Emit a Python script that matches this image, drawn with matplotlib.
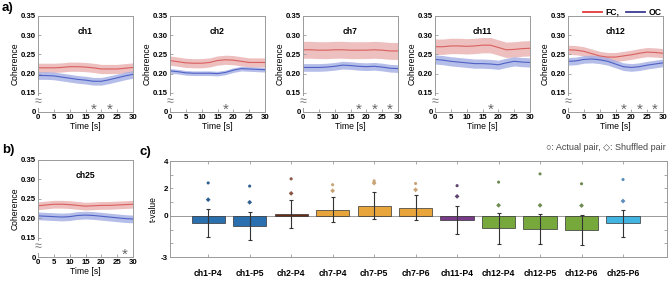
import numpy as np
import matplotlib
matplotlib.use("Agg")
import matplotlib.pyplot as plt
import matplotlib.transforms as mtransforms

plt.rcParams['font.family'] = ['Liberation Sans', 'DejaVu Sans']
plt.rcParams['font.weight'] = 'bold'

# ---- data: coherence time courses (a, b) ----
t = [0, 2.5, 5, 7.5, 10, 12.5, 15, 17.5, 20, 22.5, 25, 27.5, 30]
channels = ["ch1", "ch2", "ch7", "ch11", "ch12", "ch25"]
fc_mean = {
    "ch1": [0.215, 0.215, 0.215, 0.216, 0.218, 0.218, 0.217, 0.215, 0.212, 0.212, 0.212, 0.214, 0.216],
    "ch2": [0.234, 0.231, 0.228, 0.227, 0.227, 0.229, 0.234, 0.236, 0.235, 0.232, 0.229, 0.229, 0.229],
    "ch7": [0.262, 0.262, 0.261, 0.261, 0.262, 0.262, 0.261, 0.261, 0.261, 0.262, 0.261, 0.259, 0.259],
    "ch11": [0.270, 0.270, 0.272, 0.272, 0.271, 0.272, 0.274, 0.274, 0.268, 0.262, 0.263, 0.265, 0.266],
    "ch12": [0.262, 0.261, 0.258, 0.252, 0.246, 0.243, 0.243, 0.246, 0.249, 0.253, 0.256, 0.255, 0.253],
    "ch25": [0.232, 0.234, 0.236, 0.236, 0.235, 0.233, 0.231, 0.232, 0.233, 0.233, 0.234, 0.235, 0.236],
}
oc_mean = {
    "ch1": [0.195, 0.195, 0.194, 0.191, 0.188, 0.185, 0.183, 0.180, 0.180, 0.184, 0.189, 0.194, 0.198],
    "ch2": [0.207, 0.205, 0.202, 0.201, 0.201, 0.201, 0.200, 0.203, 0.209, 0.213, 0.212, 0.211, 0.210],
    "ch7": [0.216, 0.216, 0.216, 0.217, 0.219, 0.222, 0.221, 0.219, 0.218, 0.219, 0.217, 0.214, 0.213],
    "ch11": [0.237, 0.235, 0.232, 0.230, 0.228, 0.226, 0.226, 0.225, 0.223, 0.228, 0.232, 0.230, 0.229],
    "ch12": [0.232, 0.233, 0.237, 0.238, 0.236, 0.232, 0.225, 0.218, 0.216, 0.218, 0.222, 0.225, 0.228],
    "ch25": [0.206, 0.205, 0.204, 0.203, 0.204, 0.207, 0.208, 0.207, 0.205, 0.203, 0.201, 0.199, 0.198],
}
fc_err = {"ch1": 0.012, "ch2": 0.012, "ch7": 0.022, "ch11": 0.02, "ch12": 0.012, "ch25": 0.01}
oc_err = {"ch1": 0.01, "ch2": 0.006, "ch7": 0.01, "ch11": 0.012, "ch12": 0.01, "ch25": 0.01}
stars = {"ch1": [17.5, 22.5], "ch2": [17.5], "ch7": [17.5, 22.5, 27.5],
         "ch11": [17.5], "ch12": [17.5, 22.5, 27.5], "ch25": [27.5]}

# ---- data: t-values (c) ----
pairs = ["ch1-P4", "ch1-P5", "ch2-P4", "ch7-P4", "ch7-P5", "ch7-P6",
         "ch11-P4", "ch12-P4", "ch12-P5", "ch12-P6", "ch25-P6"]
t_mean = [-0.5, -0.72, 0.1, 0.46, 0.75, 0.6, -0.29, -0.92, -0.94, -1.04, -0.55]
t_sd = [1.02, 1.03, 1.02, 0.93, 0.96, 0.92, 1.03, 1.12, 1.1, 1.1, 1.0]
actual_pair = [2.4, 2.17, 2.7, 2.27, 2.55, 2.36, 2.2, 2.46, 3.06, 2.34, 2.65]
shuffled_pair = [1.18, 0.99, 1.64, 1.83, 2.39, 1.9, 1.42, 0.77, 0.77, 0.75, 1.08]
bar_colors = ["#2a6fae", "#2a6fae", "#6b2a12", "#e8a53c", "#e8a53c", "#e8a53c",
              "#7a3a8a", "#77a83c", "#77a83c", "#77a83c", "#42b4e2"]
dot_colors = ["#2f5f8f", "#2f5f8f", "#8a5545", "#c9a274", "#c9a274", "#c9a274",
              "#5e4270", "#6f8a52", "#6f8a52", "#6f8a52", "#5b8cbc"]

W, H = 669, 282
fig = plt.figure(figsize=(W / 100, H / 100), dpi=100)

def px_axes(left, top, right, bottom):
    return fig.add_axes([left / W, 1 - bottom / H, (right - left) / W, (bottom - top) / H])

red_line, red_fill = "#d9605e", "#eab0b0"
blue_line, blue_fill = "#4f63c6", "#a3ade4"
spine_c = "#9a9a9a"

def coh_panel(ax, ch):
    fc = np.array(fc_mean[ch]); oc = np.array(oc_mean[ch])
    ax.fill_between(t, fc - fc_err[ch], fc + fc_err[ch], color=red_fill, alpha=0.8, lw=0)
    ax.fill_between(t, oc - oc_err[ch], oc + oc_err[ch], color=blue_fill, alpha=0.8, lw=0)
    ax.plot(t, fc, color=red_line, lw=0.8)
    ax.plot(t, oc, color=blue_line, lw=0.8)
    ax.set_xlim(0, 30)
    ax.set_ylim(0.10, 0.35)
    ax.set_xticks(range(0, 31, 5))
    ax.set_yticks([0.10, 0.15, 0.20, 0.25, 0.30, 0.35])
    ax.set_yticklabels(["0", "0.15", "0.20", "0.25", "0.30", "0.35"])
    ax.tick_params(direction="in", length=2.5, width=0.6, labelsize=5.6, pad=1.5, color=spine_c)
    for s in ax.spines.values():
        s.set_color(spine_c); s.set_linewidth(0.7)
    ax.set_xlabel("Time [s]", fontsize=6.2, labelpad=1)
    ax.set_ylabel("Coherence", fontsize=6.2, labelpad=1)
    ax.text(15, 0.31, ch, ha="center", va="center", fontsize=6.2)
    for x in stars[ch]:
        ax.text(x, 0.106, "*", ha="center", va="center", fontsize=11, color="#666666",
                fontweight="normal")
    tr = mtransforms.blended_transform_factory(ax.transAxes, ax.transData)
    ax.text(0, 0.126, "≈", transform=tr, ha="center", va="center", fontsize=9,
            color="#777777", fontweight="normal", clip_on=False,
            bbox=dict(facecolor="white", edgecolor="none", pad=0.1))

lefts = [38, 170, 303, 435, 568]
for left, ch in zip(lefts, channels[:5]):
    ax = px_axes(left, 16, left + 95, 112)
    coh_panel(ax, ch)
ax25 = px_axes(38, 160, 133, 257)
coh_panel(ax25, "ch25")

# legend for a)
fig.legend(handles=[plt.Line2D([], [], color="#e03a3a", lw=1.3),
                    plt.Line2D([], [], color="#3a3a96", lw=1.3)],
           labels=["FC,", "OC"], ncol=2, frameon=False, fontsize=6.2,
           loc="upper right", bbox_to_anchor=(1.0, 1.0), handlelength=2.2,
           columnspacing=0.8, handletextpad=0.4)

fig.text(2 / W, 1 - 8 / H, "a)", fontsize=9.5, va="center")
fig.text(2 / W, 1 - 150 / H, "b)", fontsize=9.5, va="center")
fig.text(140 / W, 1 - 152 / H, "c)", fontsize=9.5, va="center")

# ---- c) bar chart ----
axc = px_axes(170, 161, 667, 257)
x = np.arange(len(pairs))
axc.axhline(0, color="#999999", lw=0.7, zorder=1)
axc.bar(x, t_mean, width=0.8, color=bar_colors, edgecolor="#333333", linewidth=0.5, zorder=2)
axc.errorbar(x, t_mean, yerr=t_sd, fmt="none", ecolor="#333333", elinewidth=0.8,
             capsize=1.5, capthick=0.8, zorder=3)
axc.scatter(x, actual_pair, s=5, marker="o", c=dot_colors, zorder=4, linewidths=0)
axc.scatter(x, shuffled_pair, s=6, marker="D", c=dot_colors, zorder=4, linewidths=0)
axc.set_xlim(-0.92, 11.06)
axc.set_ylim(-3, 4)
axc.set_xticks(x)
axc.set_xticklabels(pairs)
axc.set_yticks([-3, -2, -1, 0, 1, 2, 3, 4])
axc.set_yticklabels(["-3", "", "", "0", "", "2", "", "4"])
axc.tick_params(direction="in", length=2.5, width=0.6, labelsize=5.8, pad=1.5,
                color=spine_c, top=True, right=True)
axc.tick_params(axis="x", labelsize=6.2, pad=9)
for s in axc.spines.values():
    s.set_color(spine_c); s.set_linewidth(0.7)
axc.set_ylabel("t-value", fontsize=6.2, labelpad=2)
fig.text(666 / W, 1 - 148 / H, "○: Actual pair, ◇: Shuffled pair", ha="right", va="center",
         fontsize=6.5, fontweight="normal", color="#444444")

fig.savefig("out.png", dpi=100)
